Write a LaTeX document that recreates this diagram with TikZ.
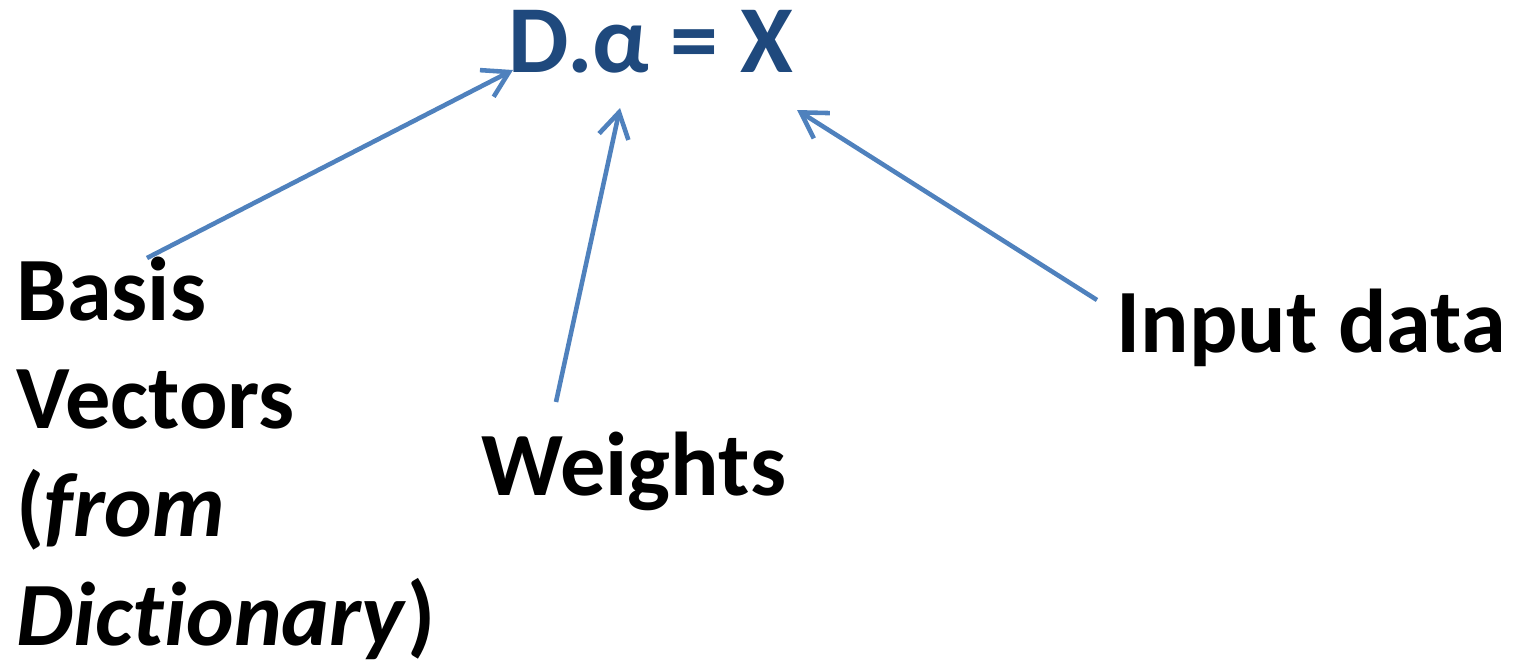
\documentclass[tikz,border=0pt]{standalone}
\usepackage{fontspec}
\setmainfont{Carlito}[Ligatures=NoCommon]
\usepackage{xcolor}
\usetikzlibrary{positioning, arrows.meta}

\definecolor{eqblue}{HTML}{1F497D}
\definecolor{linkblue}{HTML}{4F81BD}

\begin{document}
\begin{tikzpicture}[
  x=0.02cm, y=-0.02cm,
  eqtext/.style={inner sep=0pt, font=\fontsize{54.6}{60}\selectfont\bfseries, text=eqblue},
  label/.style={inner sep=0pt, align=left, font=\fontsize{51.5}{61.5}\selectfont\bfseries},
  arrow/.style={-{Straight Barb[length=5mm, width=6mm]}, line width=2.6pt, draw=linkblue}
]
\useasboundingbox (0,0) rectangle (1514,663);

\node[eqtext, anchor=base] (eq) at (651,72) {D.α = X};

\node[label, anchor=base west] (basis) at (16,645) {Basis\\Vectors\\(\textit{from}\\\textit{Dictionary})};
\node[label, anchor=base west] (weights) at (481,495) {Weights};
\node[label, anchor=base west] (input) at (1116,352) {Input data};

\draw[arrow] ([shift={(131,-387)}]basis.base west) -- ([shift={(-138,-2)}]eq.base);
\draw[arrow] ([shift={(75,-93)}]weights.base west) -- ([shift={(-31,36)}]eq.base);
\draw[arrow] ([shift={(-19,-52)}]input.base west) -- ([shift={(146,38)}]eq.base);

\end{tikzpicture}
\end{document}
